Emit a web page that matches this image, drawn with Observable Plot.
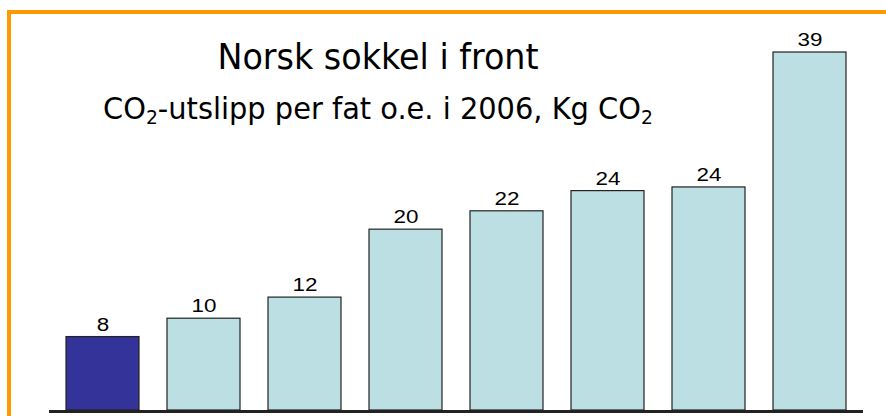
<!DOCTYPE html>
<html>
<head>
<meta charset="utf-8">
<script src="https://cdn.jsdelivr.net/npm/d3@7"></script>
<script src="https://cdn.jsdelivr.net/npm/@observablehq/plot@0.6"></script>
<style>
  html, body { margin: 0; padding: 0; background: #fff; overflow: hidden; }
  #wrap { position: relative; width: 886px; height: 416px; }
  #frame { position: absolute; left: 7px; top: 10px; width: 900px; height: 420px;
           border-left: 4px solid #FF9900; border-top: 4px solid #FF9900; }
  #chart { position: absolute; left: 0; top: 0; }
  .t { position: absolute; left: 0; width: 756px; text-align: center; color: #000;
       font-family: "DejaVu Sans Condensed", "DejaVu Sans", sans-serif; white-space: nowrap;
       line-height: 1; transform-origin: 378px 0; }
  #title { top: 40px; font-size: 35px; transform: scaleX(1.06); }
  #subtitle { top: 95px; font-size: 29.5px; transform: scaleX(1.088); }
  sub { font-size: 0.65em; vertical-align: -0.28em; line-height: 0; }
</style>
</head>
<body>
<div id="wrap">
  <div id="frame"></div>
  <div id="chart"></div>
  <div class="t" id="title">Norsk sokkel i front</div>
  <div class="t" id="subtitle">CO<sub>2</sub>-utslipp per fat o.e. i 2006, Kg CO<sub>2</sub></div>
</div>
<script>
const categories = ["A", "B", "C", "D", "E", "F", "G", "H"];
const values = [8.0, 10.0, 12.3, 19.7, 21.7, 23.9, 24.3, 39.0];
const labels = ["8", "10", "12", "20", "22", "24", "24", "39"];
const highlight = ["A"];

const data = categories.map((c, i) => ({cat: c, value: values[i], label: labels[i], hi: highlight.includes(c)}));

const chart = Plot.plot({
  width: 886,
  height: 416,
  marginLeft: 49,
  marginRight: 23,
  marginTop: 52,
  marginBottom: 6,
  x: {domain: categories, range: [35.4, 876.6], paddingInner: 0.2815, paddingOuter: 0.2815, axis: null},
  y: {domain: [0, 39], axis: null},
  marks: [
    Plot.barY(data, {x: "cat", y: "value", fill: d => d.hi ? "#333399" : "#BBDFE2", stroke: "#222", strokeWidth: 1.2}),
    Plot.text(data, {x: "cat", y: "value", text: "label", dy: -12.5, fontSize: 19, fill: "#000",
      fontFamily: "'Liberation Sans', Arial, sans-serif", className: "vlabels"}),
    Plot.ruleY([0], {stroke: "#222", strokeWidth: 3, dy: 1})
  ],
  style: {background: "transparent", overflow: "visible"}
});
// widen value labels horizontally like the reference
chart.querySelectorAll(".vlabels text").forEach(t => {
  const tr = t.getAttribute("transform") || "";
  t.setAttribute("transform", tr + " scale(1.18,1)");
});
document.getElementById("chart").appendChild(chart);
</script>
</body>
</html>
